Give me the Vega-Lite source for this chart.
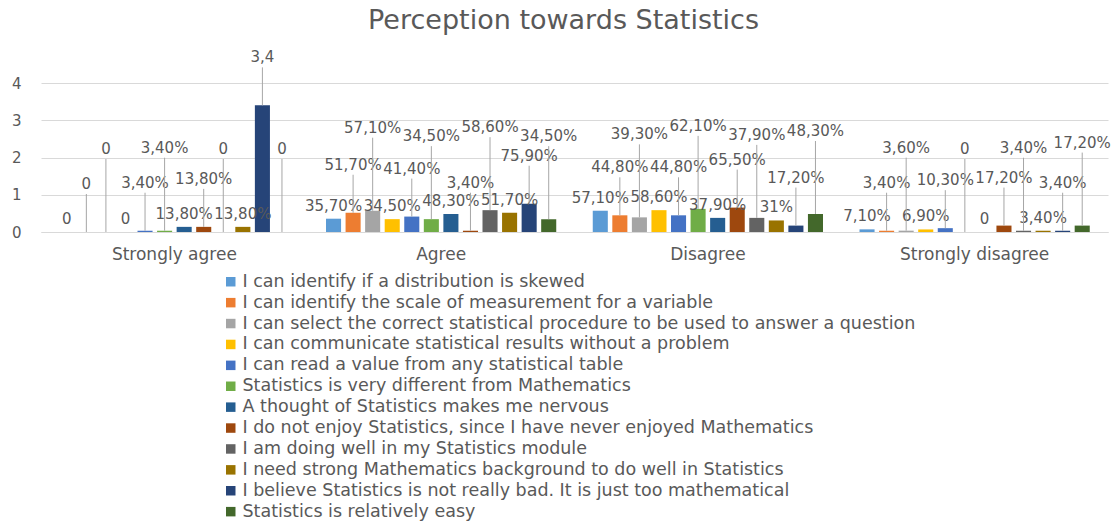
{
  "$schema": "https://vega.github.io/schema/vega-lite/v6.json",
  "autosize": {"type": "none"},
  "width": 1067,
  "height": 149,
  "padding": {"left": 41, "top": 83, "right": 6, "bottom": 292},
  "background": "white",
  "config": {
    "view": {"stroke": null},
    "font": "DejaVu Sans",
    "text": {"font": "DejaVu Sans"}
  },
  "title": {
    "text": "Perception towards Statistics",
    "fontSize": 27,
    "fontWeight": "normal",
    "color": "#595959",
    "font": "DejaVu Sans",
    "anchor": "middle",
    "frame": "group",
    "offset": 15,
    "dx": -11
  },
  "data": {
    "values": [
      {"category": "Strongly agree", "series": "I can identify if a distribution is skewed", "value": 0, "label": "0"},
      {"category": "Strongly agree", "series": "I can identify the scale of measurement for a variable", "value": 0, "label": "0"},
      {"category": "Strongly agree", "series": "I can select the correct statistical procedure to be used to answer a question", "value": 0, "label": "0"},
      {"category": "Strongly agree", "series": "I can communicate statistical results without a problem", "value": 0, "label": "0"},
      {"category": "Strongly agree", "series": "I can read a value from any statistical table", "value": 0.034, "label": "3,40%"},
      {"category": "Strongly agree", "series": "Statistics is very different from Mathematics", "value": 0.034, "label": "3,40%"},
      {"category": "Strongly agree", "series": "A thought of Statistics makes me nervous", "value": 0.138, "label": "13,80%"},
      {"category": "Strongly agree", "series": "I do not enjoy Statistics, since I have never enjoyed Mathematics", "value": 0.138, "label": "13,80%"},
      {"category": "Strongly agree", "series": "I am doing well in my Statistics module", "value": 0, "label": "0"},
      {"category": "Strongly agree", "series": "I need strong Mathematics background to do well in Statistics", "value": 0.138, "label": "13,80%"},
      {"category": "Strongly agree", "series": "I believe Statistics is not really bad. It is just too mathematical", "value": 3.4, "label": "3,4"},
      {"category": "Strongly agree", "series": "Statistics is relatively easy", "value": 0, "label": "0"},

      {"category": "Agree", "series": "I can identify if a distribution is skewed", "value": 0.357, "label": "35,70%"},
      {"category": "Agree", "series": "I can identify the scale of measurement for a variable", "value": 0.517, "label": "51,70%"},
      {"category": "Agree", "series": "I can select the correct statistical procedure to be used to answer a question", "value": 0.571, "label": "57,10%"},
      {"category": "Agree", "series": "I can communicate statistical results without a problem", "value": 0.345, "label": "34,50%"},
      {"category": "Agree", "series": "I can read a value from any statistical table", "value": 0.414, "label": "41,40%"},
      {"category": "Agree", "series": "Statistics is very different from Mathematics", "value": 0.345, "label": "34,50%"},
      {"category": "Agree", "series": "A thought of Statistics makes me nervous", "value": 0.483, "label": "48,30%"},
      {"category": "Agree", "series": "I do not enjoy Statistics, since I have never enjoyed Mathematics", "value": 0.034, "label": "3,40%"},
      {"category": "Agree", "series": "I am doing well in my Statistics module", "value": 0.586, "label": "58,60%"},
      {"category": "Agree", "series": "I need strong Mathematics background to do well in Statistics", "value": 0.517, "label": "51,70%"},
      {"category": "Agree", "series": "I believe Statistics is not really bad. It is just too mathematical", "value": 0.759, "label": "75,90%"},
      {"category": "Agree", "series": "Statistics is relatively easy", "value": 0.345, "label": "34,50%"},

      {"category": "Disagree", "series": "I can identify if a distribution is skewed", "value": 0.571, "label": "57,10%"},
      {"category": "Disagree", "series": "I can identify the scale of measurement for a variable", "value": 0.448, "label": "44,80%"},
      {"category": "Disagree", "series": "I can select the correct statistical procedure to be used to answer a question", "value": 0.393, "label": "39,30%"},
      {"category": "Disagree", "series": "I can communicate statistical results without a problem", "value": 0.586, "label": "58,60%"},
      {"category": "Disagree", "series": "I can read a value from any statistical table", "value": 0.448, "label": "44,80%"},
      {"category": "Disagree", "series": "Statistics is very different from Mathematics", "value": 0.621, "label": "62,10%"},
      {"category": "Disagree", "series": "A thought of Statistics makes me nervous", "value": 0.379, "label": "37,90%"},
      {"category": "Disagree", "series": "I do not enjoy Statistics, since I have never enjoyed Mathematics", "value": 0.655, "label": "65,50%"},
      {"category": "Disagree", "series": "I am doing well in my Statistics module", "value": 0.379, "label": "37,90%"},
      {"category": "Disagree", "series": "I need strong Mathematics background to do well in Statistics", "value": 0.31, "label": "31%"},
      {"category": "Disagree", "series": "I believe Statistics is not really bad. It is just too mathematical", "value": 0.172, "label": "17,20%"},
      {"category": "Disagree", "series": "Statistics is relatively easy", "value": 0.483, "label": "48,30%"},

      {"category": "Strongly disagree", "series": "I can identify if a distribution is skewed", "value": 0.071, "label": "7,10%"},
      {"category": "Strongly disagree", "series": "I can identify the scale of measurement for a variable", "value": 0.034, "label": "3,40%"},
      {"category": "Strongly disagree", "series": "I can select the correct statistical procedure to be used to answer a question", "value": 0.036, "label": "3,60%"},
      {"category": "Strongly disagree", "series": "I can communicate statistical results without a problem", "value": 0.069, "label": "6,90%"},
      {"category": "Strongly disagree", "series": "I can read a value from any statistical table", "value": 0.103, "label": "10,30%"},
      {"category": "Strongly disagree", "series": "Statistics is very different from Mathematics", "value": 0, "label": "0"},
      {"category": "Strongly disagree", "series": "A thought of Statistics makes me nervous", "value": 0, "label": "0"},
      {"category": "Strongly disagree", "series": "I do not enjoy Statistics, since I have never enjoyed Mathematics", "value": 0.172, "label": "17,20%"},
      {"category": "Strongly disagree", "series": "I am doing well in my Statistics module", "value": 0.034, "label": "3,40%"},
      {"category": "Strongly disagree", "series": "I need strong Mathematics background to do well in Statistics", "value": 0.034, "label": "3,40%"},
      {"category": "Strongly disagree", "series": "I believe Statistics is not really bad. It is just too mathematical", "value": 0.034, "label": "3,40%"},
      {"category": "Strongly disagree", "series": "Statistics is relatively easy", "value": 0.172, "label": "17,20%"}
    ]
  },
  "encoding": {
    "x": {
      "field": "category",
      "type": "nominal",
      "sort": ["Strongly agree", "Agree", "Disagree", "Strongly disagree"],
      "scale": {"paddingInner": 0.12, "paddingOuter": 0.06},
      "axis": {
        "title": null,
        "labelAngle": 0,
        "labelFontSize": 17,
        "labelColor": "#595959",
        "labelFont": "DejaVu Sans",
        "ticks": false,
        "labelPadding": 14,
        "domainColor": "#D9D9D9",
        "grid": false
      }
    },
    "xOffset": {
      "field": "series",
      "type": "nominal",
      "sort": [
        "I can identify if a distribution is skewed",
        "I can identify the scale of measurement for a variable",
        "I can select the correct statistical procedure to be used to answer a question",
        "I can communicate statistical results without a problem",
        "I can read a value from any statistical table",
        "Statistics is very different from Mathematics",
        "A thought of Statistics makes me nervous",
        "I do not enjoy Statistics, since I have never enjoyed Mathematics",
        "I am doing well in my Statistics module",
        "I need strong Mathematics background to do well in Statistics",
        "I believe Statistics is not really bad. It is just too mathematical",
        "Statistics is relatively easy"
      ],
      "scale": {"paddingInner": 0.23, "paddingOuter": 0.115}
    },
    "y": {
      "field": "value",
      "type": "quantitative",
      "scale": {"domain": [0, 4], "nice": false},
      "axis": {
        "title": null,
        "values": [0, 1, 2, 3, 4],
        "labelOverlap": false,
        "labelFontSize": 15,
        "labelColor": "#595959",
        "labelFont": "DejaVu Sans",
        "ticks": false,
        "domain": false,
        "labelPadding": 20,
        "gridColor": "#D9D9D9",
        "gridWidth": 1
      }
    }
  },
  "layer": [
    {
      "mark": {"type": "bar"},
      "encoding": {
        "color": {
          "field": "series",
          "type": "nominal",
          "scale": {
            "domain": [
              "I can identify if a distribution is skewed",
              "I can identify the scale of measurement for a variable",
              "I can select the correct statistical procedure to be used to answer a question",
              "I can communicate statistical results without a problem",
              "I can read a value from any statistical table",
              "Statistics is very different from Mathematics",
              "A thought of Statistics makes me nervous",
              "I do not enjoy Statistics, since I have never enjoyed Mathematics",
              "I am doing well in my Statistics module",
              "I need strong Mathematics background to do well in Statistics",
              "I believe Statistics is not really bad. It is just too mathematical",
              "Statistics is relatively easy"
            ],
            "range": ["#5B9BD5", "#ED7D31", "#A5A5A5", "#FFC000", "#4472C4", "#70AD47", "#255E91", "#9E480E", "#636363", "#997300", "#264478", "#43682B"]
          },
          "legend": {
            "title": null,
            "orient": "none",
            "legendX": 181,
            "legendY": 190,
            "direction": "vertical",
            "symbolType": "square",
            "symbolSize": 90,
            "symbolStrokeWidth": 0,
            "labelFontSize": 17.5,
            "labelColor": "#595959",
            "labelFont": "DejaVu Sans",
            "labelLimit": 900,
            "rowPadding": 1.9,
            "labelOffset": 3
          }
        }
      }
    },
    {
      "transform": [{"filter": {"field": "series", "oneOf": [
        "I can identify if a distribution is skewed",
        "I can communicate statistical results without a problem",
        "A thought of Statistics makes me nervous",
        "I need strong Mathematics background to do well in Statistics"
      ]}}],
      "mark": {"type": "text", "baseline": "bottom", "dy": -5, "fontSize": 15, "color": "#595959", "font": "DejaVu Sans"},
      "encoding": {"text": {"field": "label"}}
    },
    {
      "transform": [{"filter": {"field": "series", "oneOf": [
        "I can identify the scale of measurement for a variable",
        "I can read a value from any statistical table",
        "I do not enjoy Statistics, since I have never enjoyed Mathematics",
        "I believe Statistics is not really bad. It is just too mathematical"
      ]}}],
      "mark": {"type": "rule", "color": "#A6A6A6", "strokeWidth": 1, "y2Offset": -38},
      "encoding": {"y2": {"field": "value"}}
    },
    {
      "transform": [{"filter": {"field": "series", "oneOf": [
        "I can identify the scale of measurement for a variable",
        "I can read a value from any statistical table",
        "I do not enjoy Statistics, since I have never enjoyed Mathematics",
        "I believe Statistics is not really bad. It is just too mathematical"
      ]}}],
      "mark": {"type": "text", "baseline": "bottom", "dy": -40, "fontSize": 15, "color": "#595959", "font": "DejaVu Sans"},
      "encoding": {"text": {"field": "label"}}
    },
    {
      "transform": [{"filter": {"field": "series", "oneOf": [
        "I can select the correct statistical procedure to be used to answer a question",
        "Statistics is very different from Mathematics",
        "I am doing well in my Statistics module",
        "Statistics is relatively easy"
      ]}}],
      "mark": {"type": "rule", "color": "#A6A6A6", "strokeWidth": 1, "y2Offset": -73},
      "encoding": {"y2": {"field": "value"}}
    },
    {
      "transform": [{"filter": {"field": "series", "oneOf": [
        "I can select the correct statistical procedure to be used to answer a question",
        "Statistics is very different from Mathematics",
        "I am doing well in my Statistics module",
        "Statistics is relatively easy"
      ]}}],
      "mark": {"type": "text", "baseline": "bottom", "dy": -75, "fontSize": 15, "color": "#595959", "font": "DejaVu Sans"},
      "encoding": {"text": {"field": "label"}}
    }
  ]
}
